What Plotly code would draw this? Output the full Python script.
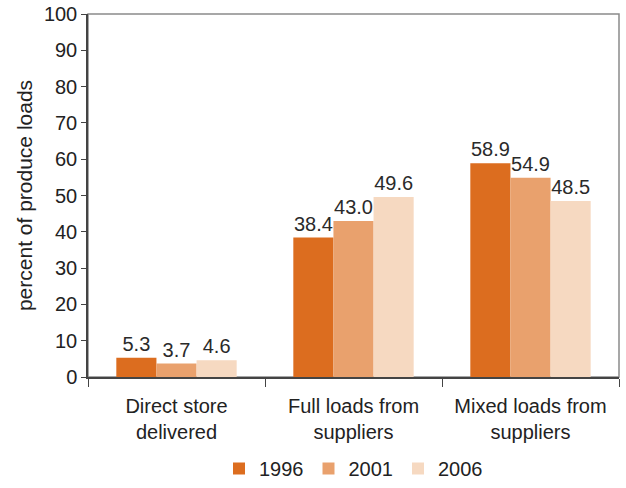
import plotly.graph_objects as go

categories = ["Direct store<br>delivered", "Full loads from<br>suppliers", "Mixed loads from<br>suppliers"]
years = ["1996", "2001", "2006"]
values_1996 = [5.3, 38.4, 58.9]
values_2001 = [3.7, 43.0, 54.9]
values_2006 = [4.6, 49.6, 48.5]
colors = ["#DC6D1F", "#E9A16D", "#F6D9C1"]

series = [values_1996, values_2001, values_2006]

fig = go.Figure()
for name, vals, col in zip(years, series, colors):
    fig.add_trace(go.Bar(
        x=categories, y=vals, name=name,
        marker=dict(color=col, line=dict(width=0)),
        text=[f"{v:.1f}" for v in vals],
        textposition="outside",
        textfont=dict(size=20, color="#2a2a2a"),
        cliponaxis=False,
    ))

fig.update_layout(
    width=626, height=488,
    margin=dict(l=88, r=7, t=14, b=111, autoexpand=False),
    paper_bgcolor="white", plot_bgcolor="white",
    font=dict(family="Liberation Sans, Arial, sans-serif", size=20, color="#222"),
    barmode="group", bargap=0.32, bargroupgap=0,
    showlegend=True,
    legend=dict(orientation="h", x=0.5, xanchor="center",
                yref="container", y=-0.005, yanchor="bottom",
                font=dict(size=20, color="#222"), itemwidth=30,
                tracegroupgap=0, traceorder="normal"),
    shapes=[dict(type="rect", xref="paper", yref="paper", x0=0, x1=1, y0=0, y1=1,
                 line=dict(color="#8a8a8a", width=1.5), layer="below")],
)
fig.update_xaxes(
    automargin=False,
    showline=True, linecolor="#444", linewidth=1.5,
    ticks="outside", ticklen=8, tickcolor="#444", tickson="boundaries",
    ticklabelstandoff=10,
    tickfont=dict(size=20, color="#222"),
)
fig.update_yaxes(
    automargin=False,
    range=[0, 100], dtick=10, showgrid=False, zeroline=False,
    showline=True, linecolor="#444", linewidth=1.5,
    ticks="outside", ticklen=5, tickcolor="#444",
    tickfont=dict(size=20, color="#222"),
    title=dict(text="percent of produce loads", font=dict(size=21, color="#222"), standoff=6),
)

fig.write_html("out.html")
